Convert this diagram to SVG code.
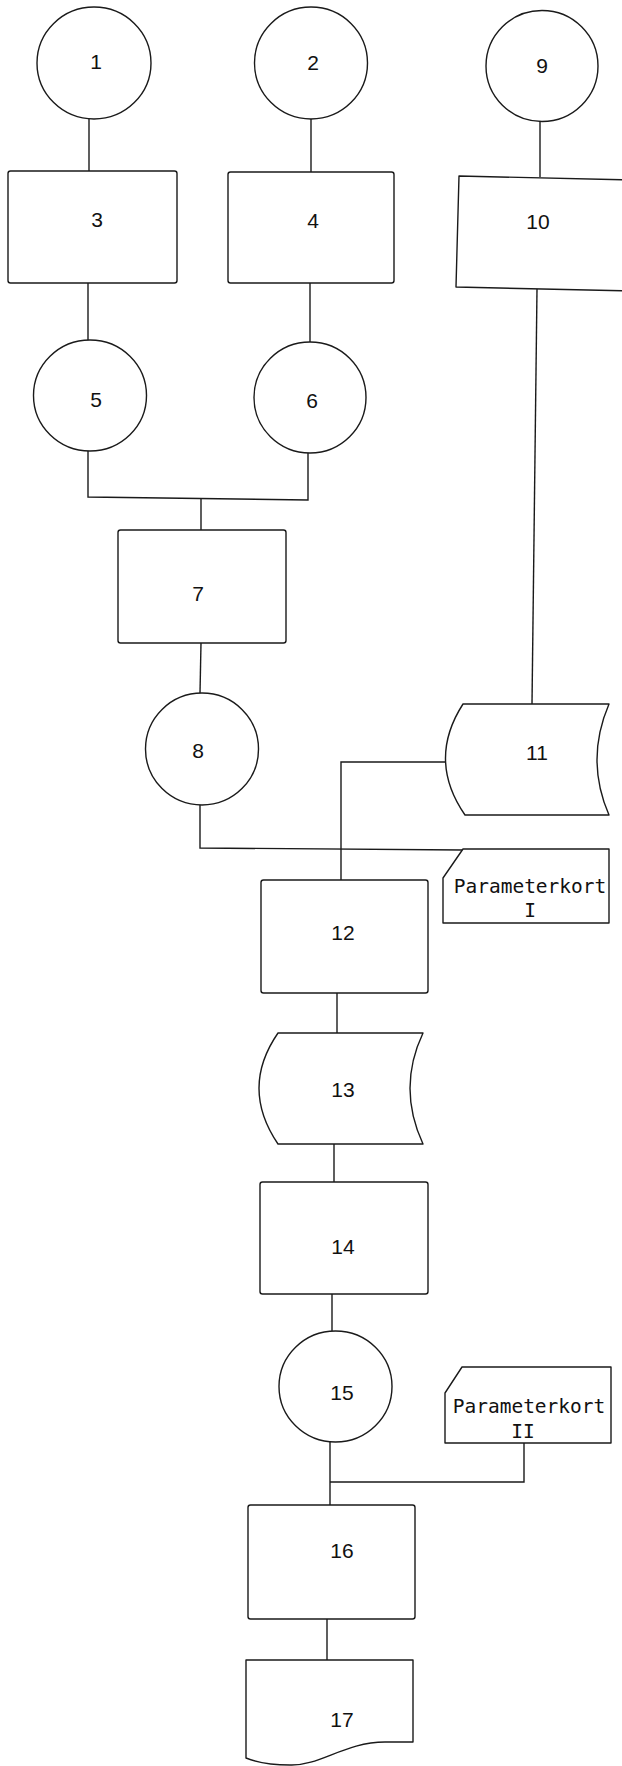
<svg xmlns="http://www.w3.org/2000/svg" width="622" height="1766" viewBox="0 0 622 1766">
<style>
.s{fill:#fff;stroke:#1a1a1a;stroke-width:1.4;stroke-linejoin:round}
.c{fill:none;stroke:#1a1a1a;stroke-width:1.4}
.n{font-family:"Liberation Sans",Arial,sans-serif;font-size:21px;fill:#111;text-anchor:middle}
.m{font-family:"DejaVu Sans Mono","Liberation Mono",monospace;font-size:19.5px;fill:#111;text-anchor:middle}
</style>
<rect width="622" height="1766" fill="#fff"/>
<g id="connectors">
<path class="c" d="M89,119 L89,171"/>
<path class="c" d="M311,119 L311,172"/>
<path class="c" d="M540,122 L540,177"/>
<path class="c" d="M88,283 L88,340"/>
<path class="c" d="M310,283 L310,342"/>
<path class="c" d="M88,451 L88,497 L308,500 L308,453"/>
<path class="c" d="M201,498 L201,530"/>
<path class="c" d="M201,643 L200,693"/>
<path class="c" d="M537,289 L532,704"/>
<path class="c" d="M446,762 L341,762 L341,881"/>
<path class="c" d="M200,805 L200,848 L463,850"/>
<path class="c" d="M337,993 L337,1033"/>
<path class="c" d="M334,1144 L334,1182"/>
<path class="c" d="M332,1294 L332,1331"/>
<path class="c" d="M330,1442 L330,1505"/>
<path class="c" d="M524,1443 L524,1482 L330,1482"/>
<path class="c" d="M327,1619 L327,1660"/>
</g>
<g id="n1"><ellipse class="s" cx="94" cy="63" rx="57" ry="56"/><text class="n" x="96" y="69">1</text></g>
<g id="n2"><ellipse class="s" cx="311" cy="63" rx="56.5" ry="56"/><text class="n" x="313" y="70">2</text></g>
<g id="n9"><ellipse class="s" cx="542" cy="66" rx="56" ry="55.5"/><text class="n" x="542" y="73">9</text></g>
<g id="n3"><rect class="s" x="8" y="171" width="169" height="112" rx="2.5"/><text class="n" x="97" y="227">3</text></g>
<g id="n4"><rect class="s" x="228" y="172" width="166" height="111" rx="2.5"/><text class="n" x="313" y="228">4</text></g>
<g id="n10"><path class="s" d="M459,176 L632,180 L632,291 L456,287 Z"/><text class="n" x="538" y="229">10</text></g>
<g id="n5"><ellipse class="s" cx="90" cy="395.5" rx="56.5" ry="55.5"/><text class="n" x="96" y="407">5</text></g>
<g id="n6"><ellipse class="s" cx="310" cy="397.5" rx="56" ry="55.5"/><text class="n" x="312" y="408">6</text></g>
<g id="n7"><rect class="s" x="118" y="530" width="168" height="113" rx="2.5"/><text class="n" x="198" y="601">7</text></g>
<g id="n8"><ellipse class="s" cx="202" cy="749" rx="56.5" ry="56"/><text class="n" x="198" y="758">8</text></g>
<g id="n11"><path class="s" d="M463,704 L609,704 Q585,760 609,815 L465,815 Q427,760 463,704 Z"/><text class="n" x="537" y="760">11</text></g>
<g id="p1"><path class="s" d="M463,849 L609,849 L609,923 L443,923 L443,878 Z"/><text class="m" x="530" y="893">Parameterkort</text><text class="m" x="530" y="917">I</text></g>
<g id="n12"><rect class="s" x="261" y="880" width="167" height="113" rx="2.5"/><text class="n" x="343" y="940">12</text></g>
<g id="n13"><path class="s" d="M278,1033 L423,1033 Q397,1088 423,1144 L278,1144 Q240,1088 278,1033 Z"/><text class="n" x="343" y="1097">13</text></g>
<g id="n14"><rect class="s" x="260" y="1182" width="168" height="112" rx="2.5"/><text class="n" x="343" y="1254">14</text></g>
<g id="n15"><ellipse class="s" cx="335.5" cy="1386.5" rx="56.5" ry="55.5"/><text class="n" x="342" y="1400">15</text></g>
<g id="p2"><path class="s" d="M462,1367 L611,1367 L611,1443 L445,1443 L445,1393 Z"/><text class="m" x="529" y="1413">Parameterkort</text><text class="m" x="523" y="1438">II</text></g>
<g id="n16"><rect class="s" x="248" y="1505" width="167" height="114" rx="2.5"/><text class="n" x="342" y="1558">16</text></g>
<g id="n17"><path class="s" d="M246,1660 L413,1660 L413,1742 L385,1742 C345,1742 320,1766 290,1765 C270,1765 256,1762 246,1758 Z"/><text class="n" x="342" y="1727">17</text></g>
</svg>
